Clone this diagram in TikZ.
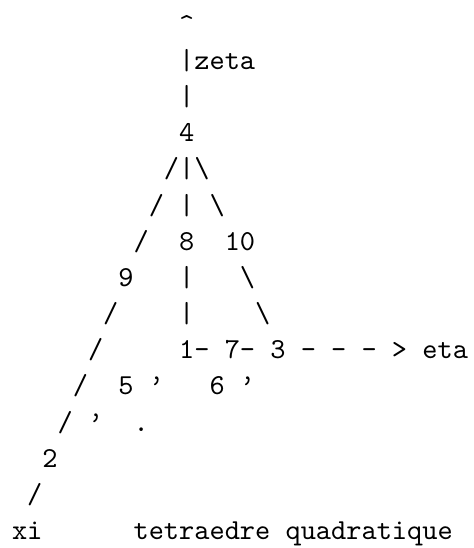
\documentclass[tikz,border=0pt]{standalone}
\usepackage{tikz}
\tikzset{glyph/.style={anchor=base west, inner sep=0pt, outer sep=0pt, font=\ttfamily}}
\newcommand\gl[4]{\node[glyph] (#1) at ({4.15pt+#3*5.25pt},{-11.43pt-#2*12.5pt}) {#4};}
\begin{document}
\begin{tikzpicture}
\useasboundingbox (0,0) rectangle (163.7pt,-189.3pt);
% row 0-3: vertical stem with zeta
\gl{hat}{0}{11}{\textasciicircum}
\gl{zbar}{1}{11}{|zeta}
\gl{bar2}{2}{11}{|}
\gl{n4}{3}{11}{4}
% row 4
\gl{r4}{4}{10}{/|\textbackslash}
% row 5
\gl{r5a}{5}{9}{/}
\gl{r5b}{5}{11}{|}
\gl{r5c}{5}{13}{\textbackslash}
% row 6
\gl{r6a}{6}{8}{/}
\gl{n8}{6}{11}{8}
\gl{n10}{6}{14}{10}
% row 7
\gl{n9}{7}{7}{9}
\gl{r7b}{7}{11}{|}
\gl{r7c}{7}{15}{\textbackslash}
% row 8
\gl{r8a}{8}{6}{/}
\gl{r8b}{8}{11}{|}
\gl{r8c}{8}{16}{\textbackslash}
% row 9
\gl{r9a}{9}{5}{/}
\gl{n1}{9}{11}{1-}
\gl{n7}{9}{14}{7-}
\gl{n3}{9}{17}{3}
\gl{d1}{9}{19}{-}
\gl{d2}{9}{21}{-}
\gl{d3}{9}{23}{-}
\gl{gt}{9}{25}{>}
\gl{eta}{9}{27}{eta}
% row 10
\gl{r10a}{10}{4}{/}
\gl{n5}{10}{7}{5}
\gl{q1}{10}{9}{’}
\gl{n6}{10}{13}{6}
\gl{q2}{10}{15}{’}
% row 11
\gl{r11a}{11}{3}{/}
\gl{q3}{11}{5}{’}
\gl{dot}{11}{8}{.}
% row 12-14
\gl{n2}{12}{2}{2}
\gl{r13}{13}{1}{/}
\gl{xi}{14}{0}{xi}
\gl{title}{14}{8}{tetraedre quadratique}
\end{tikzpicture}
\end{document}
